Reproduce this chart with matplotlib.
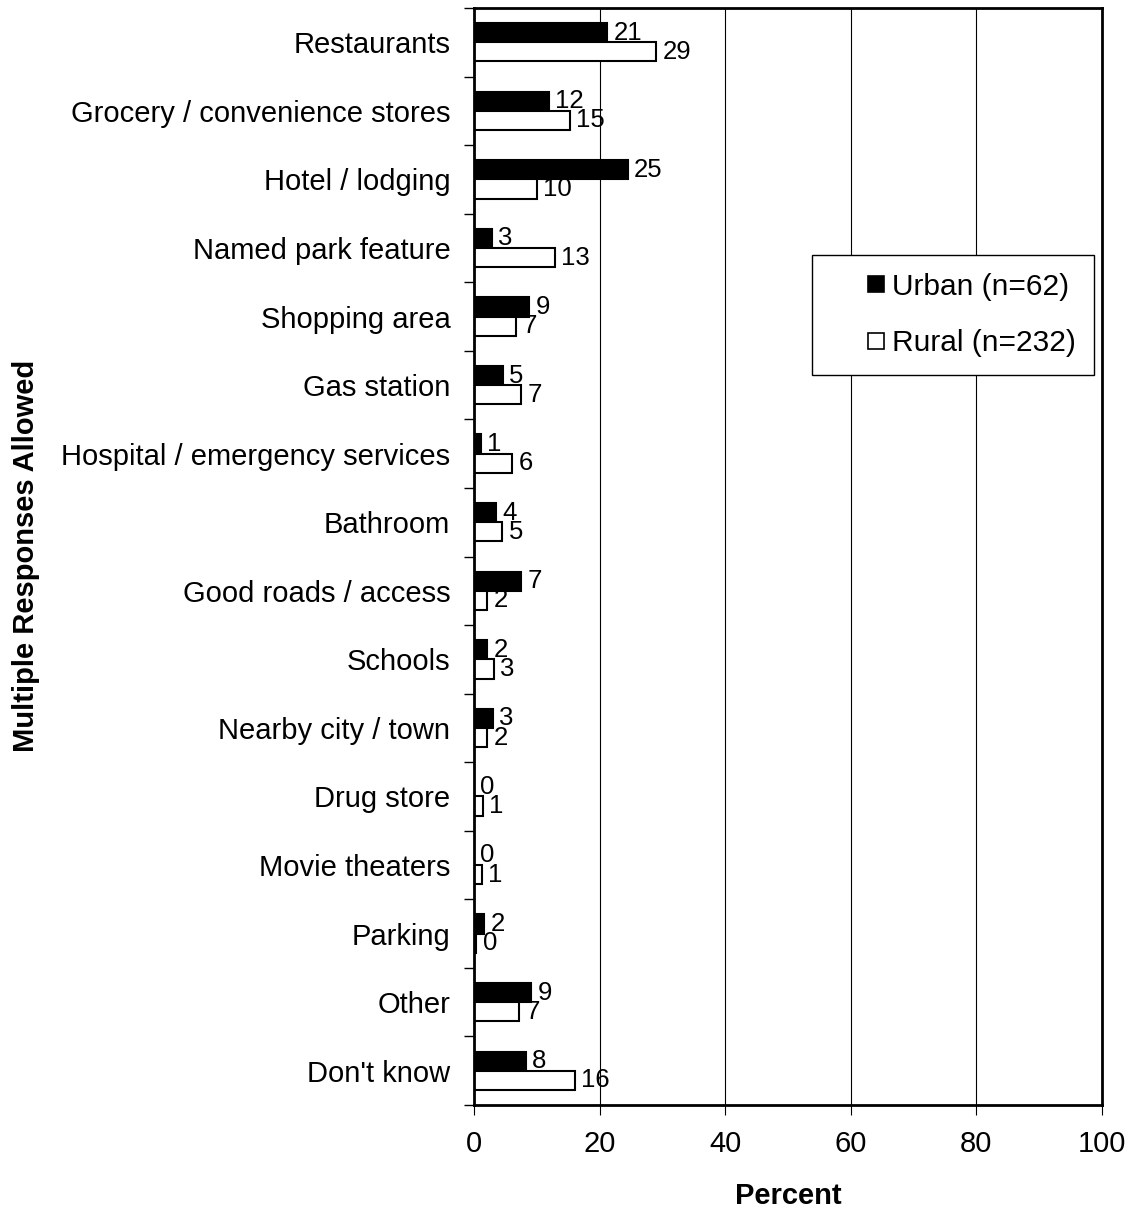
import numpy as np
import matplotlib.pyplot as plt
from matplotlib.lines import Line2D

plt.rcParams['font.family'] = ['Liberation Sans', 'DejaVu Sans']

categories = ['Restaurants', 'Grocery / convenience stores', 'Hotel / lodging',
              'Named park feature', 'Shopping area', 'Gas station',
              'Hospital / emergency services', 'Bathroom', 'Good roads / access',
              'Schools', 'Nearby city / town', 'Drug store', 'Movie theaters',
              'Parking', 'Other', "Don't know"]
urban = [21.2, 11.9, 24.5, 2.9, 8.8, 4.6, 1.1, 3.5, 7.5, 2.1, 3.0, 0.0, 0.0, 1.6, 9.1, 8.3]
rural = [29.0, 15.3, 10.0, 12.9, 6.7, 7.5, 6.1, 4.5, 2.1, 3.2, 2.1, 1.4, 1.3, 0.4, 7.2, 16.1]
urban_lbl = [21, 12, 25, 3, 9, 5, 1, 4, 7, 2, 3, 0, 0, 2, 9, 8]
rural_lbl = [29, 15, 10, 13, 7, 7, 6, 5, 2, 3, 2, 1, 1, 0, 7, 16]

fig = plt.figure(figsize=(11.32, 12.11), dpi=100)
ax = fig.add_axes([0.4187, 0.0875, 0.5548, 0.9059])

y = np.arange(len(categories))
h = 0.28
ax.barh(y - h / 2, urban, height=h, color='black', edgecolor='black', linewidth=1.5)
ax.barh(y + h / 2, rural, height=h, color='white', edgecolor='black', linewidth=1.5)

for yi, v, t in zip(y, urban, urban_lbl):
    ax.annotate(str(t), (v, yi - h / 2), xytext=(4.5, 0), textcoords='offset points',
                va='center', ha='left', fontsize=18.5)
for yi, v, t in zip(y, rural, rural_lbl):
    ax.annotate(str(t), (v, yi + h / 2), xytext=(4.5, 0), textcoords='offset points',
                va='center', ha='left', fontsize=18.5)

ax.set_xlim(0, 100)
ax.set_ylim(len(categories) - 0.5, -0.5)
ax.set_xticks([0, 20, 40, 60, 80, 100])
ax.set_yticks(y)
ax.set_yticklabels(categories, fontsize=21)
ax.set_yticks(np.arange(-0.5, len(categories)), minor=True)
ax.tick_params(axis='y', which='major', length=0, pad=17)
ax.tick_params(axis='y', which='minor', length=7, width=1, color='black')
ax.tick_params(axis='x', length=7, labelsize=21, pad=11)
ax.grid(axis='x', color='black', linewidth=0.8)
ax.set_axisbelow(True)
for s in ax.spines.values():
    s.set_linewidth(2)

ax.set_xlabel('Percent', fontsize=21, fontweight='bold', labelpad=17)
fig.text(0.023, 0.541, 'Multiple Responses Allowed', rotation=90, fontsize=21,
         fontweight='bold', ha='center', va='center')

handles = [Line2D([], [], ls='none', marker='s', markersize=12, mfc='black', mec='black', mew=1.2),
           Line2D([], [], ls='none', marker='s', markersize=12, mfc='white', mec='black', mew=1.2)]
leg = ax.legend(handles, ['Urban (n=62)', 'Rural (n=232)'], loc='upper left',
                bbox_to_anchor=(0.538, 0.775), fontsize=21.5, fancybox=False,
                framealpha=1, edgecolor='black', handlelength=3.1,
                handletextpad=-1.0, labelspacing=0.95, borderpad=0.6, borderaxespad=0)
leg.get_frame().set_linewidth(1)

fig.savefig('out.png', dpi=100)
